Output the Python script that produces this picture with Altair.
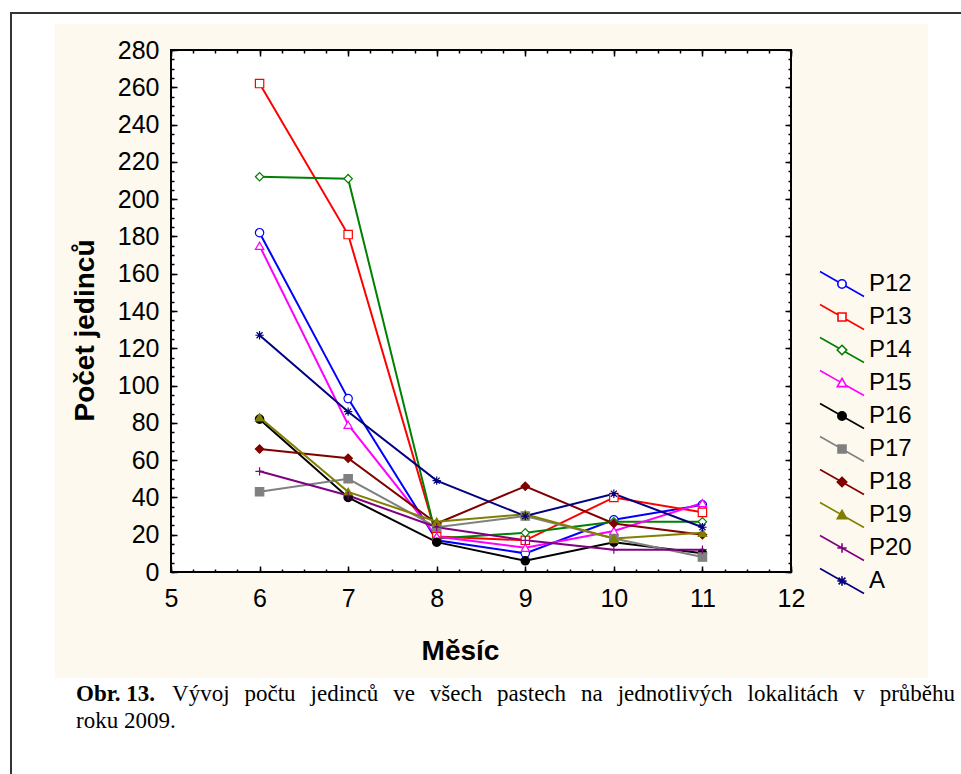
import altair as alt
import pandas as pd

# ---------------- data ----------------
months = [6, 7, 8, 9, 10, 11]
series = ["P12", "P13", "P14", "P15", "P16", "P17", "P18", "P19", "P20", "A"]
p12 = [182, 93, 17, 10, 28, 36]
p13 = [262, 181, 19, 17, 40, 32]
p14 = [212, 211, 18, 21, 27, 27]
p15 = [175, 79, 19, 13, 22, 37]
p16 = [82, 40, 16, 6, 16, 10]
p17 = [43, 50, 24, 30, 18, 8]
p18 = [66, 61, 26, 46, 26, 20]
p19 = [83, 43, 27, 31, 18, 21]
p20 = [54, 41, 24, 17, 12, 12]
a_vals = [127, 86, 49, 30, 42, 24]
values = [p12, p13, p14, p15, p16, p17, p18, p19, p20, a_vals]

x_ticks = [5, 6, 7, 8, 9, 10, 11, 12]
y_ticks = [0, 20, 40, 60, 80, 100, 120, 140, 160, 180, 200, 220, 240, 260, 280]

x_title = ["Měsíc"]
y_title = ["Počet jedinců"]
caption_bold = ["Obr. 13."]
caption_line1 = ["Vývoj", "počtu", "jedinců", "ve", "všech", "pastech", "na",
                 "jednotlivých", "lokalitách", "v", "průběhu"]
caption_line2 = ["roku 2009."]

# ---------------- styles ----------------
colors = ["#0000FF", "#FF0000", "#008000", "#FF00FF", "#000000",
          "#808080", "#800000", "#808000", "#800080", "#000080"]
fills = ["#FFFFFF", "#FFFFFF", "#FFFFFF", "#FFFFFF", "#000000",
         "#808080", "#800000", "#808000", "#FFFFFF", "#FFFFFF"]

PLUS = "M-1,0L1,0M0,-1L0,1"
ASTER = "M-1,0L1,0M0,-1L0,1M-0.72,-0.72L0.72,0.72M-0.72,0.72L0.72,-0.72"
plot_shapes = ["circle", "square", "diamond", "triangle-up", "circle",
               "square", "diamond", "triangle-up", PLUS, ASTER]

LINE = "M-2.2,-1.25L2.2,1.25"
CIRC = "M0.42,0A0.42,0.42,0,1,1,-0.42,0A0.42,0.42,0,1,1,0.42,0Z"
SQ = "M-0.4,-0.4L0.4,-0.4L0.4,0.4L-0.4,0.4Z"
DIA = "M0,-0.47L0.47,0L0,0.47L-0.47,0Z"
TRI = "M0,-0.47L0.47,0.36L-0.47,0.36Z"
LPLUS = "M-0.47,0L0.47,0M0,-0.47L0,0.47"
LAST = "M-0.47,0L0.47,0M0,-0.47L0,0.47M-0.34,-0.34L0.34,0.34M-0.34,0.34L0.34,-0.34"
legend_shapes = [
    "M-2.2,-1.25L-0.365,-0.207M0.365,0.207L2.2,1.25" + CIRC,
    "M-2.2,-1.25L-0.4,-0.227M0.4,0.227L2.2,1.25" + SQ,
    "M-2.2,-1.25L-0.3,-0.17M0.3,0.17L2.2,1.25" + DIA,
    "M-2.2,-1.25L-0.2,-0.114M0.385,0.219L2.2,1.25" + TRI,
    LINE + CIRC,
    LINE + SQ,
    LINE + DIA,
    LINE + TRI,
    LINE + LPLUS,
    LINE + LAST,
]

FONT = "Liberation Sans"
SERIF = "Liberation Serif"
W, H = 620, 522
CAP_SIZE = 23

# Times / Liberation Serif advance widths (em) used to justify the caption line
REG = {"V": .722, "ý": .5, "v": .5, "o": .5, "j": .278, "p": .5, "č": .444, "t": .278,
       "u": .5, "e": .444, "d": .5, "i": .278, "n": .5, "c": .444, "ů": .5, "š": .389,
       "h": .5, "a": .444, "s": .389, "l": .278, "k": .5, "á": .444, "r": .333, "b": .5,
       "ě": .444}
BOLD = {"O": .778, "b": .556, "r": .444, ".": .25, " ": .25, "1": .5, "3": .5}


def text_width(word, table):
    return sum(table.get(ch, 0.5) for ch in word) * CAP_SIZE


cap_left, cap_right = -95, 784          # caption block edges relative to the plot origin
bold_w = text_width(caption_bold[0], BOLD)
word_w = [text_width(w, REG) for w in caption_line1]
gap = (cap_right - cap_left - bold_w - sum(word_w)) / len(caption_line1)
xs, cur = [], cap_left + bold_w + gap
for w in word_w:
    xs.append(cur)
    cur += w + gap
words_df = pd.DataFrame({"t": caption_line1, "x": xs})

rows = []
for name, vals in zip(series, values):
    for m, v in zip(months, vals):
        rows.append({"series": name, "month": m, "count": v})
df = pd.DataFrame(rows)

xscale = alt.Scale(domain=[5, 12], nice=False, zero=False)
yscale = alt.Scale(domain=[0, 280], nice=False, zero=False)

x_minor = [5 + 0.25 * i for i in range(29)]
y_minor = list(range(0, 281, 5))

common = dict(domain=False, grid=False, tickColor="black", tickWidth=1.5, zindex=1)

ax_bottom = alt.Axis(orient="bottom", values=x_ticks, tickSize=6, offset=-6, format="d",
                     labelFont=FONT, labelFontSize=25, labelColor="black", labelPadding=14,
                     labelFlush=False, labelOverlap=False,
                     title=x_title[0], titleFont=FONT, titleFontSize=28, titleFontWeight="bold",
                     titleColor="black", titleX=289, titleY=93, titleBaseline="alphabetic", **common)
ax_left = alt.Axis(orient="left", values=y_ticks, tickSize=6, offset=-6, format="d",
                   labelFont=FONT, labelFontSize=25, labelColor="black", labelPadding=12,
                   labelOverlap=False,
                   title=y_title[0], titleFont=FONT, titleFontSize=28, titleFontWeight="bold",
                   titleColor="black", titleX=-78, titleY=280, titleAngle=270, **common)
ax_bottom_minor = alt.Axis(orient="bottom", values=x_minor, tickSize=3, offset=-3, labels=False,
                           title=None, **common)
ax_left_minor = alt.Axis(orient="left", values=y_minor, tickSize=3, offset=-3, labels=False,
                         title=None, **common)
ax_top = alt.Axis(orient="top", values=x_ticks, tickSize=6, offset=-6, labels=False,
                  title=None, **common)
ax_right = alt.Axis(orient="right", values=y_ticks, tickSize=6, offset=-6, labels=False,
                    title=None, **common)
ax_top_minor = alt.Axis(orient="top", values=x_minor, tickSize=3, offset=-3, labels=False,
                        title=None, **common)
ax_right_minor = alt.Axis(orient="right", values=y_minor, tickSize=3, offset=-3, labels=False,
                          title=None, **common)

one = pd.DataFrame({"k": [0]})

beige = alt.Chart(one).mark_rect(fill="#FDF9EE").encode(
    x=alt.value(-116), x2=alt.value(757), y=alt.value(-26), y2=alt.value(628))
white = alt.Chart(one).mark_rect(fill="white").encode(
    x=alt.value(0), x2=alt.value(W), y=alt.value(0), y2=alt.value(H))
frame = alt.Chart(one).mark_rect(fillOpacity=0, stroke="#333333", strokeWidth=2).encode(
    x=alt.value(-160), x2=alt.value(1000), y=alt.value(-37), y2=alt.value(1000))
border = alt.Chart(one).mark_rect(fillOpacity=0, stroke="black", strokeWidth=2).encode(
    x=alt.value(0), x2=alt.value(W), y=alt.value(0), y2=alt.value(H))

stroke_enc = alt.Stroke("series:N", scale=alt.Scale(domain=series, range=colors), legend=None)
fill_enc = alt.Fill("series:N", scale=alt.Scale(domain=series, range=fills), legend=None)

lines = alt.Chart(df).mark_line(strokeWidth=2).encode(
    x=alt.X("month:Q", scale=xscale, axis=ax_bottom),
    y=alt.Y("count:Q", scale=yscale, axis=ax_left),
    stroke=stroke_enc,
    order="month:Q",
)
points = alt.Chart(df).mark_point(filled=True, size=70, strokeWidth=1.2, opacity=1).encode(
    x=alt.X("month:Q", scale=xscale, axis=ax_bottom_minor),
    y=alt.Y("count:Q", scale=yscale, axis=ax_left_minor),
    stroke=stroke_enc,
    fill=fill_enc,
    shape=alt.Shape("series:N", scale=alt.Scale(domain=series, range=plot_shapes), legend=None),
)
axes3 = alt.Chart(df).mark_point(opacity=0).encode(
    x=alt.X("month:Q", scale=xscale, axis=ax_top),
    y=alt.Y("count:Q", scale=yscale, axis=ax_right),
).transform_filter("false")
axes4 = alt.Chart(df).mark_point(opacity=0).encode(
    x=alt.X("month:Q", scale=xscale, axis=ax_top_minor),
    y=alt.Y("count:Q", scale=yscale, axis=ax_right_minor),
).transform_filter("false")

leg = alt.Legend(orient="none", legendX=659, legendY=222, title=None,
                 labelFont=FONT, labelFontSize=24, labelColor="black", labelOffset=15,
                 rowPadding=1, padding=0, symbolSize=400, symbolStrokeWidth=1.6,
                 symbolOpacity=1, zindex=1)
legend_layer = alt.Chart(df).mark_point(filled=True, size=400, strokeWidth=1.6, opacity=1).encode(
    stroke=alt.Stroke("series:N", scale=alt.Scale(domain=series, range=colors), legend=leg),
    fill=alt.Fill("series:N", scale=alt.Scale(domain=series, range=fills), legend=leg),
    shape=alt.Shape("series:N", scale=alt.Scale(domain=series, range=legend_shapes), legend=leg),
).transform_filter("false")

cap_b = alt.Chart(pd.DataFrame({"t": caption_bold})).mark_text(
    align="left", baseline="alphabetic", font=SERIF, fontSize=CAP_SIZE, fontWeight="bold",
    color="black"
).encode(x=alt.value(cap_left), y=alt.value(651), text="t:N")
cap_1 = alt.Chart(words_df).mark_text(
    align="left", baseline="alphabetic", font=SERIF, fontSize=CAP_SIZE, color="black"
).encode(x=alt.X("x:Q", scale=None, axis=None), y=alt.value(651), text="t:N")
cap_2 = alt.Chart(pd.DataFrame({"t": caption_line2})).mark_text(
    align="left", baseline="alphabetic", font=SERIF, fontSize=CAP_SIZE, color="black"
).encode(x=alt.value(cap_left), y=alt.value(678), text="t:N")

chart = alt.layer(
    beige, white, frame, lines, points, border, axes3, axes4, legend_layer, cap_b, cap_1, cap_2
).resolve_scale(
    stroke="independent", fill="independent", shape="independent"
).resolve_axis(
    x="independent", y="independent"
).properties(
    width=W, height=H,
    padding={"left": 171, "top": 50, "right": 170, "bottom": 202},
    autosize=alt.AutoSizeParams(type="none"),
    background="white",
).configure_view(strokeWidth=0)

chart.save("out.html", embed_options={"renderer": "svg", "actions": False})
